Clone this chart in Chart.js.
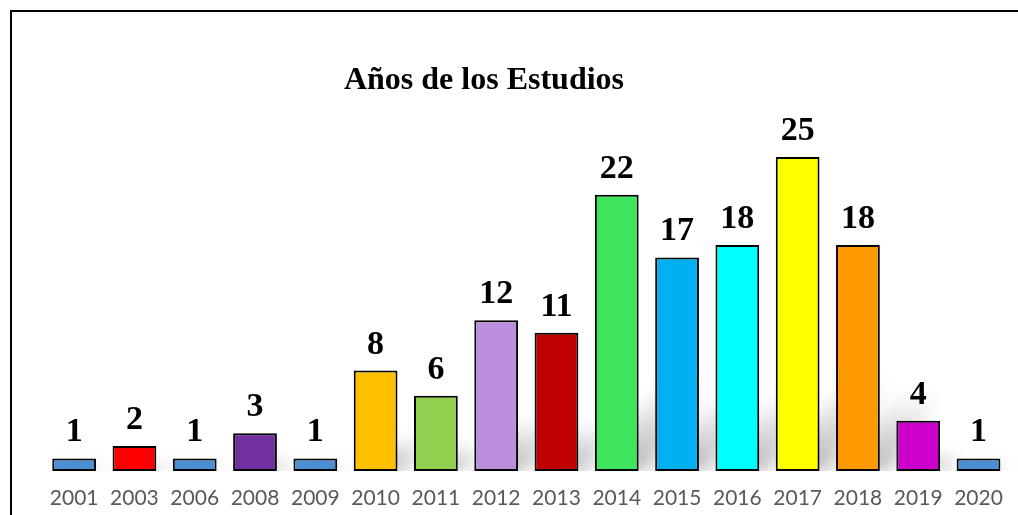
<!DOCTYPE html>
<html>
<head>
<meta charset="utf-8">
<script src="https://cdn.jsdelivr.net/npm/chart.js@4.4.1/dist/chart.umd.min.js"></script>
<style>
  html, body { margin: 0; padding: 0; background: #fff; }
  #wrap { position: relative; width: 1018px; height: 515px; }
</style>
</head>
<body>
<div id="wrap"><canvas id="myChart" width="1018" height="515"></canvas></div>
<script>
const chartTitle = 'Años de los Estudios';
const years = ['2001', '2003', '2006', '2008', '2009', '2010', '2011', '2012',
               '2013', '2014', '2015', '2016', '2017', '2018', '2019', '2020'];
const counts = [1, 2, 1, 3, 1, 8, 6, 12, 11, 22, 17, 18, 25, 18, 4, 1];
const barColors = ['#4b8ed2', '#ff0000', '#4b8ed2', '#7030a0', '#4b8ed2', '#ffc000',
                   '#92d050', '#bb8fdd', '#c00000', '#3ee45b', '#00b0f0', '#00ffff',
                   '#ffff00', '#ff9900', '#cc00cc', '#4b8ed2'];

// frame (top + left lines) and title
const framePlugin = {
    id: 'framePlugin',
    beforeDraw(chart) {
        const ctx = chart.ctx;
        ctx.save();
        ctx.strokeStyle = '#000';
        ctx.lineWidth = 2;
        ctx.beginPath();
        ctx.moveTo(11, 515);
        ctx.lineTo(11, 11);
        ctx.lineTo(1018, 11);
        ctx.stroke();
        ctx.fillStyle = '#000';
        ctx.font = 'bold 32px "Liberation Serif", "Times New Roman", serif';
        ctx.textAlign = 'center';
        ctx.textBaseline = 'alphabetic';
        ctx.fillText(chartTitle, 484, 89);
        ctx.restore();
    }
};

// soft perspective shadow behind the bars
const shadowPlugin = {
    id: 'shadowPlugin',
    beforeDatasetsDraw(chart) {
        const ctx = chart.ctx;
        const meta = chart.getDatasetMeta(0);
        const base = chart.scales.y.getPixelForValue(0);
        ctx.save();
        ctx.beginPath();
        ctx.rect(0, 0, chart.width, base);
        ctx.clip();
        ctx.filter = 'blur(8px)';
        meta.data.forEach(function (bar) {
            const w = bar.width;
            const h = base - bar.y;
            const sh = Math.min(h * 0.35, 95);
            const dx = sh * 0.7;
            const g = ctx.createLinearGradient(0, base, 0, base - sh);
            g.addColorStop(0, 'rgba(0,0,0,0.28)');
            g.addColorStop(1, 'rgba(0,0,0,0)');
            ctx.fillStyle = g;
            ctx.beginPath();
            ctx.moveTo(bar.x - w / 2 + 4, base);
            ctx.lineTo(bar.x + w / 2 + 8, base);
            ctx.lineTo(bar.x + w / 2 + 8 + dx, base - sh);
            ctx.lineTo(bar.x - w / 2 + 4 + dx, base - sh);
            ctx.closePath();
            ctx.fill();
        });
        ctx.restore();
    }
};

// value labels above bars
const valueLabels = {
    id: 'valueLabels',
    afterDatasetsDraw(chart) {
        const ctx = chart.ctx;
        const meta = chart.getDatasetMeta(0);
        ctx.save();
        ctx.fillStyle = '#000';
        ctx.font = 'bold 34px "Liberation Serif", "Times New Roman", serif';
        ctx.textAlign = 'center';
        ctx.textBaseline = 'alphabetic';
        meta.data.forEach(function (bar, i) {
            ctx.fillText(String(counts[i]), bar.x, bar.y - 17);
        });
        ctx.restore();
    }
};

const config = {
    type: 'bar',
    data: {
        labels: years,
        datasets: [{
            label: chartTitle,
            data: counts,
            backgroundColor: barColors,
            borderColor: '#000',
            borderWidth: 2,
            borderSkipped: false,
            categoryPercentage: 1,
            barPercentage: 0.726
        }]
    },
    options: {
        responsive: false,
        animation: false,
        layout: {
            padding: { top: 157, left: 44, right: 4, bottom: 0 }
        },
        scales: {
            x: {
                grid: { display: false, drawTicks: false },
                border: { display: false },
                afterFit: function (scale) { scale.height = 44; },
                ticks: {
                    color: '#595959',
                    padding: 15,
                    maxRotation: 0,
                    autoSkip: false,
                    font: { family: 'Lato, Carlito, "Open Sans", sans-serif', size: 21 }
                }
            },
            y: {
                display: false,
                min: 0,
                max: 25
            }
        },
        plugins: {
            legend: { display: false },
            tooltip: { enabled: false }
        }
    },
    plugins: [framePlugin, shadowPlugin, valueLabels]
};

var myChart = new Chart(document.getElementById('myChart'), config);
</script>
</body>
</html>
